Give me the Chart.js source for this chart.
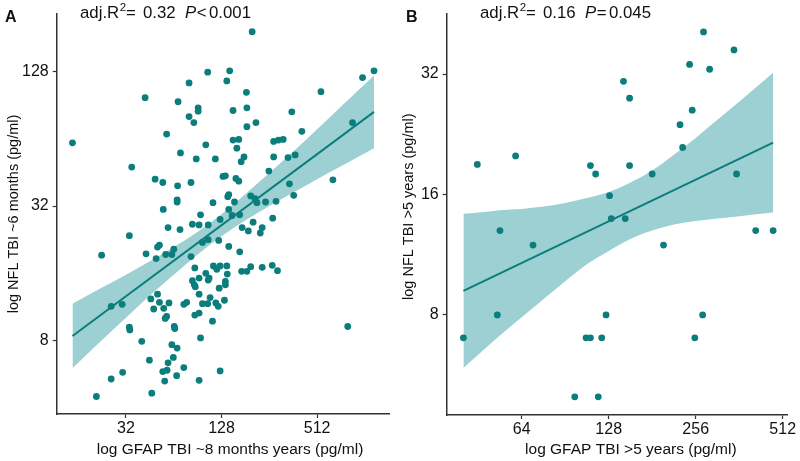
<!DOCTYPE html>
<html>
<head>
<meta charset="utf-8">
<script src="https://cdn.jsdelivr.net/npm/chart.js@4.4.0/dist/chart.umd.min.js"></script>
<style>
  html, body { margin: 0; padding: 0; background: #fff; }
  #wrap { position: relative; width: 800px; height: 461px; }
  canvas { position: absolute; top: 0; }
</style>
</head>
<body>
<div id="wrap">
  <canvas id="chartA" width="400" height="461" style="left:0"></canvas>
  <canvas id="chartB" width="400" height="461" style="left:400px"></canvas>
</div>
<script>
// values are log2 units (axes say "log ..."), tick labels are the raw pg/ml values

// panel A: GFAP ~8 months vs NFL ~6 months
const gfapA = [
  7.64, 10.19, 9.95, 6.71, 7.17, 7.11, 6.32, 5.40, 7.52, 9.08,
  6.09, 6.51, 6.51, 7.24, 7.53, 8.47, 6.32, 6.42, 7.72, 7.53,
  9.74, 8.68, 5.85, 3.88, 7.24, 7.36, 8.09, 8.19, 8.29, 6.67,
  7.32, 6.14, 7.47, 7.41, 6.47, 6.87, 8.09, 8.39, 8.54, 5.12,
  5.61, 5.77, 6.08, 6.36, 7.03, 7.08, 7.30, 7.36, 7.99, 9.33,
  8.42, 8.51, 7.13, 7.15, 7.61, 7.70, 7.74, 7.92, 8.14, 7.27,
  6.82, 6.07, 6.07, 5.78, 7.15, 6.56, 7.38, 7.22, 8.07, 6.97,
  6.39, 6.53, 6.72, 5.88, 6.13, 7.43, 7.56, 7.66, 7.85, 7.81,
  5.07, 4.49, 5.42, 5.63, 5.66, 5.70, 5.83, 5.96, 6.00, 6.36,
  6.60, 6.72, 6.94, 7.15, 7.38, 6.44, 6.83, 6.90, 6.97, 7.11,
  6.67, 6.74, 6.72, 6.53, 6.39, 6.43, 6.45, 7.12, 7.08, 7.08,
  6.95, 6.53, 6.76, 6.60, 6.71, 6.88, 6.93, 7.06, 7.42, 7.53,
  7.61, 7.85, 8.06, 8.17, 6.21, 6.27, 6.44, 6.53, 6.81, 6.56,
  5.66, 5.52, 5.70, 5.90, 5.58, 5.79, 5.82, 5.85, 6.01, 6.02,
  4.69, 4.92, 5.07, 5.08, 5.33, 5.96, 6.07, 5.49, 5.99, 5.88,
  5.77, 5.86, 5.81, 6.06, 6.21, 4.69, 4.93, 5.54, 4.38, 6.53,
  6.97, 9.64
];
const nflA = [
  7.59, 7.01, 6.91, 6.99, 7.01, 6.86, 6.83, 6.61, 6.69, 6.70,
  6.55, 6.46, 6.41, 6.42, 6.46, 6.40, 6.33, 6.24, 6.24, 6.18,
  6.24, 6.11, 6.07, 5.94, 5.98, 5.99, 5.96, 5.98, 5.99, 5.91,
  5.86, 5.79, 5.73, 5.66, 5.70, 5.70, 5.73, 5.72, 5.76, 5.58,
  5.40, 5.35, 5.30, 5.35, 5.44, 5.45, 5.41, 5.37, 5.52, 5.39,
  5.33, 5.16, 5.14, 5.17, 5.15, 5.11, 5.05, 5.06, 5.07, 5.06,
  5.05, 5.09, 5.06, 4.95, 4.95, 4.87, 4.87, 4.86, 4.82, 4.80,
  4.73, 4.72, 4.72, 4.68, 4.65, 4.68, 4.63, 4.76, 4.68, 4.60,
  4.56, 4.27, 4.29, 4.22, 4.39, 4.42, 4.28, 4.28, 4.36, 4.25,
  4.46, 4.50, 4.49, 4.40, 4.32, 4.08, 4.11, 4.06, 4.11, 4.11,
  4.00, 3.93, 3.90, 3.93, 3.89, 3.83, 3.80, 3.99, 3.88, 3.83,
  3.78, 3.69, 3.64, 3.55, 3.55, 3.56, 3.51, 3.60, 4.03, 4.03,
  4.10, 4.09, 4.12, 4.04, 3.54, 3.57, 3.38, 3.41, 3.29, 3.04,
  3.69, 3.62, 3.57, 3.56, 3.47, 3.48, 3.33, 3.36, 3.21, 3.18,
  3.51, 3.54, 3.20, 3.16, 2.99, 2.94, 2.89, 2.71, 2.75, 2.67,
  2.54, 2.56, 2.40, 2.48, 2.60, 2.43, 2.53, 2.22, 2.17, 2.41,
  2.55, 3.21
];
const fitXA = [3.88, 10.19];
const fitYA = [3.07, 6.40];
const bandXA  = [3.88, 4.5, 5.0, 5.5, 6.0, 6.5, 7.0, 7.5, 8.0, 8.5, 9.0, 9.5, 10.19];
const bandHiA = [3.55, 3.79, 3.98, 4.18, 4.39, 4.62, 4.88, 5.18, 5.49, 5.81, 6.14, 6.48, 6.94];
const bandLoA = [2.59, 3.01, 3.34, 3.67, 3.98, 4.28, 4.55, 4.79, 5.00, 5.20, 5.40, 5.59, 5.86];
const xTicksA = [32, 128, 512];
const yTicksA = [8, 32, 128];

// panel B: GFAP >5 years vs NFL >5 years
const gfapB = [5.33, 5.49, 5.93, 5.75, 6.13, 5.72, 6.74, 6.79, 6.92, 6.97, 6.61, 6.88,
  6.79, 6.85, 7.01, 7.03, 7.19, 7.17, 7.24, 7.24, 7.50, 7.63, 7.82, 7.85, 7.93, 7.96,
  8.09, 8.16, 8.44, 8.47, 8.69, 8.89, 8.08, 7.99];
const nflB = [2.81, 4.25, 4.32, 3.70, 3.58, 3.00, 2.81, 2.81, 2.81, 3.00, 2.32, 2.32,
  4.24, 4.17, 3.99, 3.80, 3.80, 4.94, 4.80, 4.24, 4.17, 3.58, 4.58, 4.39, 5.08, 4.70,
  5.35, 5.04, 5.20, 4.17, 3.70, 3.70, 3.00, 2.81];
const fitXB = [5.33, 8.89];
const fitYB = [3.20, 4.43];
const bandXB  = [5.33, 5.5, 5.75, 6.0, 6.25, 6.5, 6.75, 7.0, 7.25, 7.5, 7.75, 8.0, 8.25, 8.5, 8.89];
const bandHiB = [3.84, 3.85, 3.87, 3.88, 3.90, 3.93, 3.97, 4.02, 4.10, 4.20, 4.33, 4.47, 4.62, 4.77, 5.01];
const bandLoB = [2.56, 2.67, 2.83, 2.98, 3.13, 3.28, 3.42, 3.53, 3.63, 3.70, 3.75, 3.78, 3.80, 3.82, 3.85];
const xTicksB = [64, 128, 256, 512];
const yTicksB = [8, 16, 32];

const teal = '#0b7d7c';
const bandColor = '#9cd0d2';
const ink = '#111';
const axisColor = '#333';
const FONT = '"Liberation Sans", Arial, sans-serif';

const pts = (xs, ys) => xs.map((x, i) => ({ x: x, y: ys[i] }));

// panel letter, stats line and axis titles
const panelText = {
  id: 'panelText',
  afterDraw(chart, args, o) {
    const ctx = chart.ctx;
    ctx.save();
    ctx.fillStyle = ink;
    ctx.textAlign = 'left';
    ctx.textBaseline = 'alphabetic';
    ctx.font = 'bold 16px ' + FONT;
    ctx.fillText(o.letter, o.letterX, 21.7);

    const base = 17.8;
    ctx.font = '16.8px ' + FONT;
    ctx.fillText('adj.R', 80, base);
    let w = ctx.measureText('adj.R').width;
    ctx.font = '11.5px ' + FONT;
    ctx.fillText('2', 80.5 + w, base - 6.5);
    ctx.font = '16.8px ' + FONT;
    ctx.fillText('=', 126, base);
    ctx.fillText(o.r2, 143, base);
    ctx.font = 'italic 16.8px ' + FONT;
    ctx.fillText('P', 185, base);
    w = ctx.measureText('P').width;
    ctx.font = '16.8px ' + FONT;
    ctx.fillText(o.sign, 185.5 + w, base);
    ctx.fillText(o.p, 209, base);

    ctx.textAlign = 'center';
    ctx.textBaseline = 'middle';
    ctx.font = '15.5px ' + FONT;
    ctx.fillText(o.xTitle, o.xTitleX, 450);
    ctx.translate(o.yTitleX, o.yTitleY);
    ctx.rotate(-Math.PI / 2);
    ctx.font = '14.5px ' + FONT;
    ctx.fillText(o.yTitle, 0, 0);
    ctx.restore();
  }
};

function axis(min, max, ticks, fit, padding) {
  return {
    type: 'linear',
    min: min,
    max: max,
    afterFit: fit,
    afterBuildTicks: s => { s.ticks = ticks.map(v => ({ value: Math.log2(v) })); },
    ticks: {
      callback: (v, i) => String(ticks[i]),
      autoSkip: false,
      maxRotation: 0,
      padding: padding,
      color: ink,
      font: { family: FONT, size: 16 }
    },
    grid: { display: true, drawOnChartArea: false, drawTicks: true, tickLength: 4, tickColor: axisColor, tickWidth: 1.2 },
    border: { display: true, color: axisColor, width: 1.5 }
  };
}

function makePanel(id, p) {
  return new Chart(document.getElementById(id), {
    type: 'scatter',
    data: {
      datasets: [
        { data: pts(p.xs, p.ys), backgroundColor: teal, borderColor: teal, borderWidth: 0,
          pointRadius: 3.4, order: 0 },
        { type: 'line', showLine: true, data: pts(p.fitX, p.fitY), borderColor: teal,
          borderWidth: 2, pointRadius: 0, fill: false, order: 1 },
        { type: 'line', showLine: true, data: pts(p.bandX, p.bandHi), borderWidth: 0,
          borderColor: 'rgba(0,0,0,0)', pointRadius: 0, fill: '+1', backgroundColor: bandColor,
          cubicInterpolationMode: 'monotone', order: 2 },
        { type: 'line', showLine: true, data: pts(p.bandX, p.bandLo), borderWidth: 0,
          borderColor: 'rgba(0,0,0,0)', pointRadius: 0, fill: false,
          cubicInterpolationMode: 'monotone', order: 3 }
      ]
    },
    options: {
      responsive: false,
      animation: false,
      layout: { padding: { left: 0, right: p.padRight, top: 10, bottom: 0 } },
      plugins: {
        legend: { display: false },
        tooltip: { enabled: false },
        panelText: p.text
      },
      scales: {
        x: axis(p.xMin, p.xMax, p.xTicks, s => { s.height = p.xAxisH; }, 1),
        y: axis(p.yMin, p.yMax, p.yTicks, s => { s.width = p.yAxisW; }, 4)
      }
    },
    plugins: [panelText]
  });
}

makePanel('chartA', {
  xs: gfapA, ys: nflA, fitX: fitXA, fitY: fitYA,
  bandX: bandXA, bandHi: bandHiA, bandLo: bandLoA,
  xTicks: xTicksA, yTicks: yTicksA,
  xMin: 3.55, xMax: 10.51, yMin: 1.91, yMax: 7.86,
  padRight: 10.7, yAxisW: 56.7, xAxisH: 47,
  text: { letter: 'A', letterX: 5, r2: '0.32', sign: '<', p: '0.001',
    xTitle: 'log GFAP TBI ~8 months years (pg/ml)', xTitleX: 230,
    yTitle: 'log NFL TBI ~6 months (pg/ml)', yTitleX: 13.7, yTitleY: 214 }
});

makePanel('chartB', {
  xs: gfapB, ys: nflB, fitX: fitXB, fitY: fitYB,
  bandX: bandXB, bandHi: bandHiB, bandLo: bandLoB,
  xTicks: xTicksB, yTicks: yTicksB,
  xMin: 5.138, xMax: 9.053, yMin: 2.169, yMax: 5.502,
  padRight: 12.7, yAxisW: 46.7, xAxisH: 46,
  text: { letter: 'B', letterX: 6, r2: '0.16', sign: '=', p: '0.045',
    xTitle: 'log GFAP TBI >5 years (pg/ml)', xTitleX: 230.8,
    yTitle: 'log NFL TBI >5 years (pg/ml)', yTitleX: 8.5, yTitleY: 206.7 }
});
</script>
</body>
</html>
